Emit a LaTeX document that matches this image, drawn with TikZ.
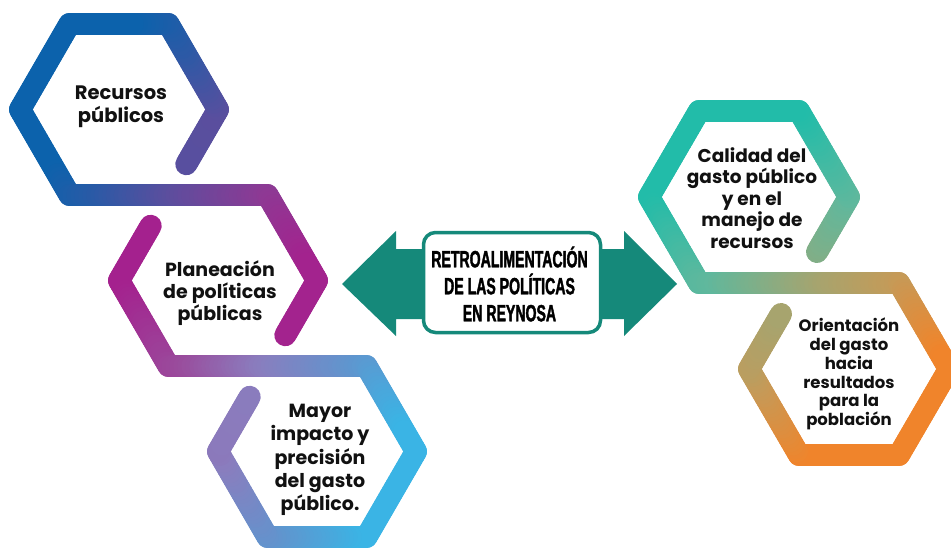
\documentclass[tikz,border=0pt]{standalone}
\usepackage{fontspec}
\newfontfamily\hexfont{Poppins}
\newfontfamily\titlefont[FakeStretch=0.6, FakeBold=1.6]{Liberation Sans Bold}
\definecolor{arrowc}{HTML}{15897A}
\definecolor{txtc}{HTML}{111111}

\newcommand\MixStop[5]{%
  \pgfmathtruncatemacro\gpct{((#5-#3)/(#4-#3))*100}%
  \colorlet{segc}{#2!\gpct!#1}}
\newcommand\GetGradColor[1]{%
  \ifdim #1pt<\sPa pt \colorlet{segc}{gA}%
  \else\ifdim #1pt<\sPb pt \MixStop{gA}{gB}{\sPa}{\sPb}{#1}%
  \else\ifdim #1pt<\sPc pt \MixStop{gB}{gC}{\sPb}{\sPc}{#1}%
  \else\ifdim #1pt<\sPd pt \MixStop{gC}{gD}{\sPc}{\sPd}{#1}%
  \else\ifdim #1pt<\sPe pt \MixStop{gD}{gE}{\sPd}{\sPe}{#1}%
  \else \colorlet{segc}{gE}\fi\fi\fi\fi\fi}
\newcommand\GradLine[4]{%
  \pgfmathsetmacro\gl{veclen(#3-#1,#4-#2)}%
  \pgfmathtruncatemacro\gn{max(1,ceil(\gl/4))}%
  \foreach \gi in {1,...,\gn}{%
    \pgfmathsetmacro\gxa{#1+(#3-#1)*(\gi-1)/\gn}%
    \pgfmathsetmacro\gya{#2+(#4-#2)*(\gi-1)/\gn}%
    \pgfmathsetmacro\gxb{#1+(#3-#1)*\gi/\gn}%
    \pgfmathsetmacro\gyb{#2+(#4-#2)*\gi/\gn}%
    \pgfmathsetmacro\gp{\ga*(\gxa+\gxb)/2+\gb*(\gya+\gyb)/2}%
    \GetGradColor{\gp}%
    \draw[hexline, draw=segc] (\gxa,\gya) -- (\gxb,\gyb);
  }}
\newcommand\GradPoly[1]{%
  \foreach \px/\py [count=\k, remember=\px as \qx (initially 0), remember=\py as \qy (initially 0)] in {#1}{%
    \ifnum\k>1 \GradLine{\qx}{\qy}{\px}{\py}\fi}}

\begin{document}
\begin{tikzpicture}[x=1pt, y=-1pt,
  hexline/.style={line width=22pt, line cap=round},
  hextext/.style={align=center, inner sep=0pt, text=txtc},
  titletext/.style={align=center, inner sep=0pt, text=black, font=\titlefont\fontsize{23.5}{27}\selectfont},
  centerbox/.style={draw=arrowc, line width=3.5pt, fill=white, rounded corners=12pt, minimum width=177pt, minimum height=100pt, inner sep=0pt}]
\useasboundingbox (0,0) rectangle (951,552);
\fill[white] (0,0) rectangle (951,552);

% ---------- path A: hexagon 1 and right half of hexagon 2
\def\ga{1}\def\gb{0.5}
\def\sPa{140}\def\sPb{200}\def\sPc{275}\def\sPd{370}\def\sPe{440}
\definecolor{gA}{HTML}{0C62AC}\definecolor{gB}{HTML}{2A5AA6}\definecolor{gC}{HTML}{5C4E9E}
\definecolor{gD}{HTML}{8E3994}\definecolor{gE}{HTML}{A3238E}
\GradPoly{186.3/164.2, 218/109.5, 168.5/24, 69.5/24, 20/109.5, 69.5/195, 267.5/195, 317/280.5, 285.3/335.2}

% ---------- path B: left half of hexagon 2 and hexagon 3
\def\ga{1}\def\gb{0.5}
\def\sPa{270}\def\sPb{370}\def\sPc{450}\def\sPd{540}\def\sPe{620}
\definecolor{gA}{HTML}{A4218E}\definecolor{gB}{HTML}{9A4B9C}\definecolor{gC}{HTML}{8A7DBE}
\definecolor{gD}{HTML}{6095CE}\definecolor{gE}{HTML}{3AB4E5}
\GradPoly{150.7/225.8, 119/280.5, 168.5/366, 366.5/366, 416/451.5, 366.5/537, 267.5/537, 218/451.5, 249.7/396.8}

% ---------- path C: hexagons 4 and 5
\def\ga{1}\def\gb{1.5}
\def\sPa{960}\def\sPb{1140}\def\sPc{1250}\def\sPd{1330}\def\sPe{1480}
\definecolor{gA}{HTML}{22BCA9}\definecolor{gB}{HTML}{5FB89D}\definecolor{gC}{HTML}{A6A46F}
\definecolor{gD}{HTML}{C69A57}\definecolor{gE}{HTML}{F0842B}
\GradPoly{817/252, 849/197, 799/111, 699/111, 649/197, 699/283, 899/283, 949/369, 899/455, 799/455, 749/369, 781/314}

% ---------- double arrow and central box
\fill[arrowc] (342,284) -- (396,231) -- (396,249) -- (624,249) -- (624,231) -- (677,284)
  -- (624,336) -- (624,319) -- (396,319) -- (396,336) -- cycle;
\node[centerbox] (box) at (512,282.5) {};
\node[titletext] (title) at (509.5,284) {RETROALIMENTACIÓN\\DE LAS POLÍTICAS\\EN REYNOSA};

% ---------- hexagon texts
\node[hextext, font=\hexfont\bfseries\fontsize{19.5}{23}\selectfont] (t1) at (121,107) {Recursos\\públicos};
\node[hextext, font=\hexfont\bfseries\fontsize{19}{21.7}\selectfont] (t2) at (220,293) {Planeación\\de políticas\\públicas};
\node[hextext, font=\hexfont\bfseries\fontsize{19}{23.4}\selectfont] (t3) at (320,460) {Mayor\\impacto y\\precisión\\del gasto\\público.};
\node[hextext, font=\hexfont\bfseries\fontsize{18.5}{21.5}\selectfont] (t4) at (752,198) {Calidad del\\gasto público\\y en el\\manejo de\\recursos};
\node[hextext, font=\hexfont\bfseries\fontsize{16.5}{18.8}\selectfont] (t5) at (849,374) {Orientación\\del gasto\\hacia\\resultados\\para la\\población};
\end{tikzpicture}
\end{document}
